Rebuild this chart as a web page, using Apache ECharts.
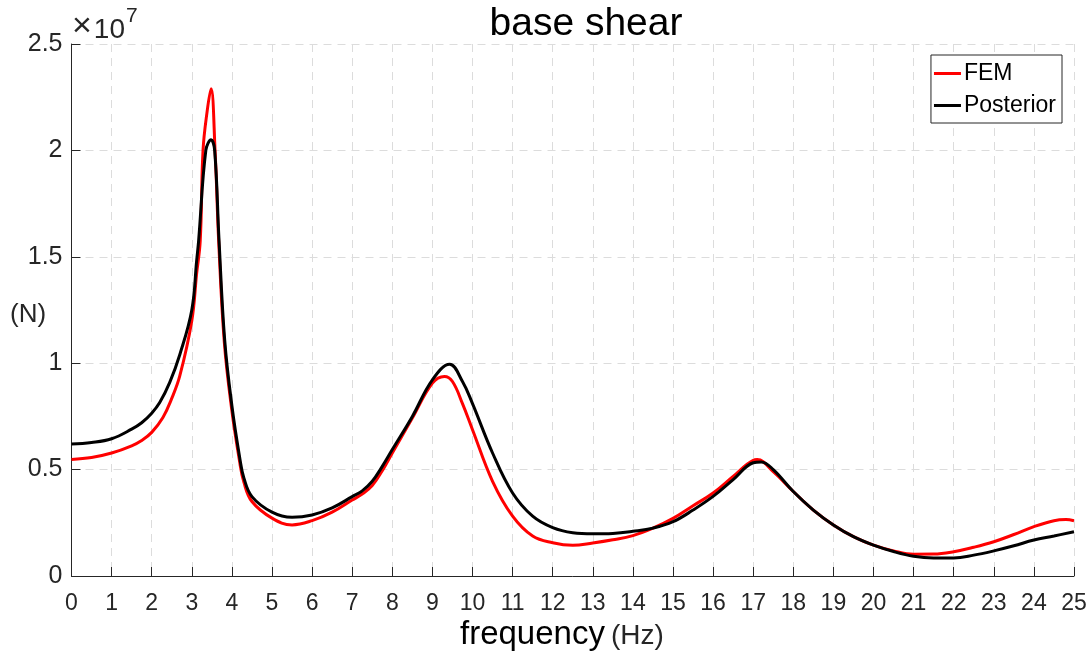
<!DOCTYPE html>
<html>
<head>
<meta charset="utf-8">
<script src="https://cdn.jsdelivr.net/npm/echarts@6/dist/echarts.min.js"></script>
<style>
  html, body { margin: 0; padding: 0; background: #fff; }
  #chart { width: 1090px; height: 658px; }
</style>
</head>
<body>
<div id="chart"></div>
<script>
// Base shear frequency response, values in units of 1e7 N
const femFreq = [0, 0.5, 1, 1.5, 1.75, 2, 2.28, 2.49, 2.7, 3.0, 3.12, 3.21, 3.28, 3.38, 3.48, 3.58, 3.67, 3.81, 3.99, 4.19, 4.3, 4.5, 5, 5.5, 6, 6.5, 7, 7.25, 7.5, 7.75, 8, 8.5, 9, 9.3, 9.5, 9.75, 10, 10.5, 11, 11.5, 12, 12.5, 13, 13.5, 14, 14.5, 15, 15.5, 16, 16.5, 17, 17.1, 17.5, 18, 18.5, 19, 19.5, 20, 20.5, 21, 21.5, 22, 22.5, 23, 23.5, 24, 24.5, 24.8, 25];
const femValues = [0.548, 0.557, 0.578, 0.612, 0.637, 0.675, 0.745, 0.83, 0.94, 1.20, 1.42, 1.575, 2.0, 2.18, 2.29, 2.0, 1.575, 1.10, 0.79, 0.54, 0.44, 0.35, 0.272, 0.24, 0.26, 0.30, 0.357, 0.385, 0.425, 0.495, 0.578, 0.742, 0.906, 0.9375, 0.914, 0.81, 0.6875, 0.445, 0.281, 0.1875, 0.156, 0.144, 0.155, 0.17, 0.19, 0.225, 0.271, 0.33, 0.39, 0.468, 0.544, 0.547, 0.49, 0.397, 0.31, 0.24, 0.185, 0.145, 0.118, 0.1025, 0.103, 0.114, 0.135, 0.161, 0.195, 0.232, 0.26, 0.265, 0.26];

const postFreq = [0, 0.5, 1, 1.5, 1.75, 2, 2.2, 2.45, 2.7, 3.0, 3.12, 3.17, 3.35, 3.48, 3.57, 3.68, 3.82, 4.0, 4.2, 4.3, 4.5, 5, 5.5, 6, 6.5, 7, 7.25, 7.5, 7.75, 8, 8.5, 9, 9.43, 9.75, 10, 10.5, 11, 11.5, 12, 12.5, 13, 13.5, 14, 14.5, 15, 15.5, 16, 16.5, 17, 17.2, 17.5, 18, 18.5, 19, 19.5, 20, 20.5, 21, 21.5, 22, 22.5, 23, 23.5, 24, 24.5, 25];
const postValues = [0.62, 0.627, 0.645, 0.69, 0.72, 0.765, 0.815, 0.91, 1.04, 1.25, 1.48, 1.575, 2.0, 2.05, 2.0, 1.575, 1.11, 0.80, 0.55, 0.46, 0.373, 0.30, 0.276, 0.287, 0.32, 0.373, 0.40, 0.445, 0.515, 0.594, 0.75, 0.922, 0.995, 0.914, 0.81, 0.578, 0.39, 0.281, 0.227, 0.203, 0.198, 0.2, 0.21, 0.225, 0.255, 0.31, 0.374, 0.453, 0.532, 0.536, 0.5, 0.397, 0.31, 0.24, 0.185, 0.145, 0.115, 0.093, 0.085, 0.085, 0.098, 0.118, 0.142, 0.169, 0.188, 0.208];

const seriesNames = ['FEM', 'Posterior'];
const yTicks = ['0', '0.5', '1', '1.5', '2', '2.5'];

const pairs = (xs, ys) => xs.map((x, i) => [x, ys[i]]);

const FONT = '"Liberation Sans", Arial, sans-serif';
const AXIS_COLOR = '#262626';
const GRID_LINE = { show: true, lineStyle: { color: '#dcdcdc', type: [8, 6], width: 1 } };

const chart = echarts.init(document.getElementById('chart'), null, { renderer: 'canvas' });

chart.setOption({
  animation: false,
  backgroundColor: '#ffffff',
  title: {
    text: 'base shear',
    left: 581,
    top: 0,
    textAlign: 'center',
    textStyle: { fontFamily: FONT, fontSize: 39, fontWeight: 'normal', color: '#000' }
  },
  grid: { left: 71.5, right: 16, top: 44, bottom: 82, containLabel: false },
  legend: {
    right: 28,
    top: 55,
    orient: 'vertical',
    data: seriesNames,
    icon: 'rect',
    itemWidth: 27,
    itemHeight: 3,
    itemGap: 9,
    padding: [7, 6, 6, 3],
    borderColor: '#262626',
    borderWidth: 1,
    backgroundColor: '#fff',
    textStyle: { fontFamily: FONT, fontSize: 23, color: '#000', padding: [0, 0, 0, -2] }
  },
  xAxis: {
    type: 'value',
    min: 0,
    max: 25,
    interval: 1,
    axisLine: { show: true, onZero: false, lineStyle: { color: AXIS_COLOR, width: 1 } },
    axisTick: { show: true, inside: true, length: 9, lineStyle: { color: AXIS_COLOR } },
    axisLabel: { fontFamily: FONT, fontSize: 23, color: AXIS_COLOR, margin: 16 },
    splitLine: GRID_LINE
  },
  yAxis: {
    type: 'value',
    min: 0,
    max: 2.5,
    interval: 0.5,
    axisLine: { show: true, onZero: false, lineStyle: { color: AXIS_COLOR, width: 1 } },
    axisTick: { show: true, inside: true, length: 9, lineStyle: { color: AXIS_COLOR } },
    axisLabel: {
      fontFamily: FONT, fontSize: 25, color: AXIS_COLOR, margin: 9,
      formatter: v => yTicks[Math.round(v / 0.5)]
    },
    splitLine: GRID_LINE
  },
  graphic: [
    {
      type: 'text',
      left: 72,
      top: 6,
      style: {
        text: '{x|×}{a|10}{b|7}',
        rich: {
          x: { fontFamily: FONT, fontSize: 34, fill: AXIS_COLOR, verticalAlign: 'bottom', lineHeight: 38, padding: [0, 2, 0, 0] },
          a: { fontFamily: FONT, fontSize: 28, fill: AXIS_COLOR, verticalAlign: 'bottom', lineHeight: 38 },
          b: { fontFamily: FONT, fontSize: 21, fill: AXIS_COLOR, verticalAlign: 'top', lineHeight: 38, padding: [0, 0, 16, 1] }
        }
      }
    },
    {
      type: 'text',
      left: 10,
      top: 302,
      style: { text: '(N)', fontFamily: FONT, fontSize: 26, fill: AXIS_COLOR }
    },
    {
      type: 'text',
      left: 460,
      top: 618,
      style: {
        text: '{a|frequency}{b|(Hz)}',
        rich: {
          a: { fontFamily: FONT, fontSize: 33, fill: '#000', verticalAlign: 'bottom', lineHeight: 40 },
          b: { fontFamily: FONT, fontSize: 28, fill: AXIS_COLOR, verticalAlign: 'bottom', lineHeight: 40, padding: [0, 0, 1, 6] }
        }
      }
    }
  ],
  series: [
    {
      name: seriesNames[0],
      type: 'line',
      data: pairs(femFreq, femValues),
      showSymbol: false,
      symbol: 'none',
      smooth: 0.4,
      lineStyle: { color: '#ff0000', width: 3 },
      itemStyle: { color: '#ff0000' },
      z: 2
    },
    {
      name: seriesNames[1],
      type: 'line',
      data: pairs(postFreq, postValues),
      showSymbol: false,
      symbol: 'none',
      smooth: 0.4,
      lineStyle: { color: '#000000', width: 3 },
      itemStyle: { color: '#000000' },
      z: 3
    }
  ]
});
</script>
</body>
</html>
